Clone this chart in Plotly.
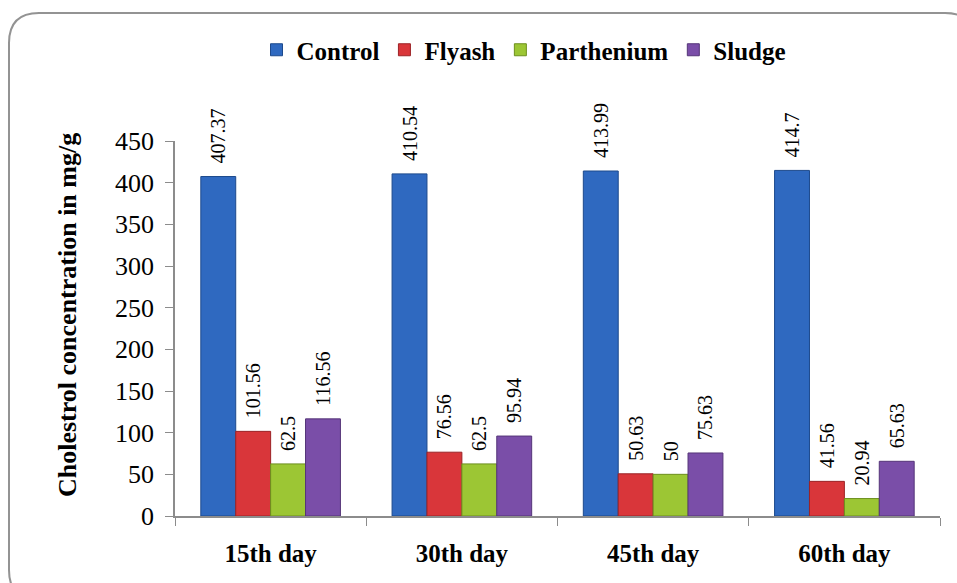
import plotly.graph_objects as go

categories = ["15th day", "30th day", "45th day", "60th day"]
control = [407.37, 410.54, 413.99, 414.7]
flyash = [101.56, 76.56, 50.63, 41.56]
parthenium = [62.5, 62.5, 50, 20.94]
sludge = [116.56, 95.94, 75.63, 65.63]

series = [
    ("Control", control, "#2f69c0", "#1d4a8c"),
    ("Flyash", flyash, "#d9363a", "#9c2326"),
    ("Parthenium", parthenium, "#9cc634", "#6d8f1e"),
    ("Sludge", sludge, "#7a4ea8", "#553578"),
]

SERIF = "Liberation Serif"

fig = go.Figure()
for name, vals, col, edge in series:
    fig.add_trace(go.Bar(
        name=f"<b>{name}</b>", x=categories, y=vals,
        marker=dict(color=col, line=dict(color=edge, width=1)),
        text=["\u00a0\u00a0" + str(v) for v in vals], textposition="outside", textangle=-90,
        constraintext="none",
        textfont=dict(family=SERIF, size=20, color="black"),
        cliponaxis=False,
    ))

W, H = 957, 583
L, R, T, B = 175, 17, 141, 67
pw, ph = W - L - R, H - T - B

def px(x):
    return (x - L) / pw

def py(y):
    return (H - B - y) / ph

x0, x1, y0, y1, r = 9, 975, 13, 600, 30
path = (
    f"M {px(x0 + r)} {py(y0)} L {px(x1 - r)} {py(y0)} "
    f"Q {px(x1)} {py(y0)} {px(x1)} {py(y0 + r)} "
    f"L {px(x1)} {py(y1 - r)} Q {px(x1)} {py(y1)} {px(x1 - r)} {py(y1)} "
    f"L {px(x0 + r)} {py(y1)} Q {px(x0)} {py(y1)} {px(x0)} {py(y1 - r)} "
    f"L {px(x0)} {py(y0 + r)} Q {px(x0)} {py(y0)} {px(x0 + r)} {py(y0)} Z"
)

fig.update_layout(
    width=W, height=H,
    margin=dict(l=L, r=R, t=T, b=B, autoexpand=False),
    paper_bgcolor="white", plot_bgcolor="white",
    barmode="group", bargap=0.27, bargroupgap=0,
    font=dict(family=SERIF, color="black"),
    showlegend=True,
    legend=dict(orientation="h", x=px(524), xanchor="center", y=py(50), yanchor="middle",
                font=dict(family=SERIF, size=25, color="black"),
                itemwidth=30, traceorder="normal", tracegroupgap=0),
    shapes=[dict(type="path", xref="paper", yref="paper", path=path,
                 line=dict(color="#939393", width=2), layer="below")],
    annotations=[dict(text="<b>Cholestrol concentration in mg/g</b>", xref="paper", yref="paper",
                      x=px(67), y=py(315), textangle=-90, showarrow=False,
                      xanchor="center", yanchor="middle",
                      font=dict(family=SERIF, size=26, color="black"))],
    xaxis=dict(showline=True, linecolor="#8c8c8c", linewidth=1.5, automargin=False,
               ticks="outside", tickson="boundaries", ticklen=8, tickcolor="#8c8c8c",
               ticklabelstandoff=14,
               tickfont=dict(family=SERIF, size=25, weight="bold"),
               showgrid=False),
    yaxis=dict(range=[0, 450], dtick=50, showline=True, linecolor="#8c8c8c", linewidth=1.5,
               automargin=False, ticklabelstandoff=6,
               ticks="outside", ticklen=8, tickcolor="#8c8c8c", showgrid=False, zeroline=False,
               tickfont=dict(family=SERIF, size=26)),
)

fig.write_html("out.html", config={"displayModeBar": False},
               post_script="document.body.style.margin='0';")
